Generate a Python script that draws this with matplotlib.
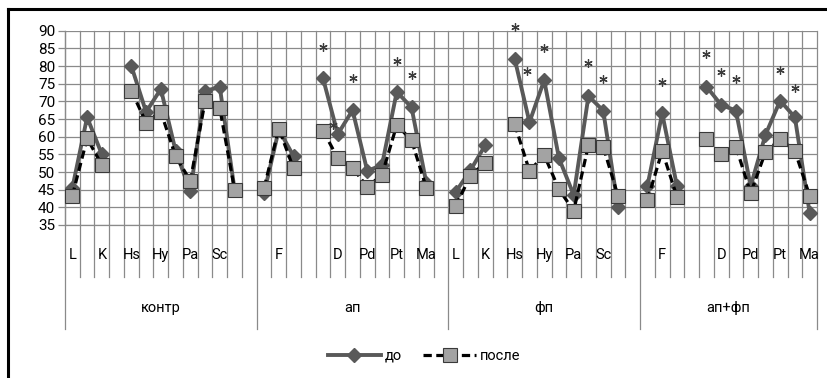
import numpy as np
import matplotlib
matplotlib.use("Agg")
import matplotlib.pyplot as plt
from matplotlib.lines import Line2D
from matplotlib.transforms import blended_transform_factory

plt.rcParams['font.family'] = ['Roboto', 'DejaVu Sans']

nan = np.nan

# Scale labels inside each group ("" = spacer slot)
scales = ["L", "F", "K", "", "Hs", "D", "Hy", "Pd", "Pa", "Pt", "Sc", "Ma", ""]
scales_last = scales[:-1]

groups = ["контр", "ап", "фп", "ап+фп"]

# T-scores before treatment
before_kontr = [45.5, 65.5, 55.0, nan, 80.0, 67.0, 73.5, 56.0, 44.5, 73.0, 74.0, 45.0, nan]
before_ap = [44.0, 62.0, 54.5, nan, 76.5, 60.7, 67.5, 50.3, 52.0, 72.7, 68.3, 47.0, nan]
before_fp = [44.4, 50.5, 57.6, nan, 82.0, 64.1, 76.0, 53.9, 43.5, 71.5, 67.4, 40.2, nan]
before_apfp = [46.1, 66.6, 46.1, nan, 74.2, 69.0, 67.4, 46.0, 60.5, 70.2, 65.5, 38.5]

# T-scores after treatment
after_kontr = [43.3, 59.5, 52.0, nan, 73.0, 64.0, 67.0, 54.5, 47.5, 70.0, 68.0, 45.0, nan]
after_ap = [45.5, 62.3, 51.0, nan, 61.7, 53.9, 51.2, 45.8, 49.2, 63.3, 59.0, 45.6, nan]
after_fp = [40.4, 49.0, 52.6, nan, 63.5, 50.3, 54.8, 45.1, 39.0, 57.6, 57.2, 43.3, nan]
after_apfp = [42.0, 56.0, 43.0, nan, 59.3, 55.0, 57.2, 44.0, 55.6, 59.3, 56.0, 43.3]

# Significance marks: (group index, scale name, y value, x shift in slots)
stars_group = [1, 1, 1, 1, 1, 2, 2, 2, 2, 2, 3, 3, 3, 3, 3, 3]
stars_scale = ["Hs", "D", "Hy", "Pt", "Sc", "Hs", "D", "Hy", "Pt", "Sc",
               "F", "Hs", "D", "Hy", "Pt", "Sc"]
stars_value = [85.5, 63.3, 76.5, 81.5, 77.5, 91.0, 78.7, 85.0, 80.8, 76.2,
               75.4, 83.4, 78.4, 76.2, 79.0, 73.7]
stars_shift = [0, -0.3, 0, 0, 0, 0, -0.15, 0, 0, 0, 0, 0, 0, 0, 0, 0]

yticks = list(range(35, 91, 5))

group_scales = [scales, scales, scales, scales_last]
before = before_kontr + before_ap + before_fp + before_apfp
after = after_kontr + after_ap + after_fp + after_apfp
labels = sum(group_scales, [])
n = len(labels)
x = np.arange(n) + 0.5
starts = np.cumsum([0] + [len(s) for s in group_scales])

W, H = 827, 378
fig = plt.figure(figsize=(W / 100, H / 100), dpi=100)
left, right, top, bottom = 65, 817, 30.7, 225
ax = fig.add_axes([left / W, 1 - bottom / H, (right - left) / W, (bottom - top) / H])
ax.set_xlim(0, n)
ax.set_ylim(35, 90)

grid_c = '#8a8a8a'
ax.set_yticks(yticks)
ax.yaxis.grid(True, color=grid_c, lw=0.9)
ax.set_axisbelow(True)
ax.tick_params(axis='y', length=5, width=0.9, color=grid_c, pad=2, labelsize=11,
               labelcolor='black')
ax.set_xticks([])
for s in ['top', 'right']:
    ax.spines[s].set_visible(False)
for s in ['left', 'bottom']:
    ax.spines[s].set_color(grid_c)
    ax.spines[s].set_linewidth(0.9)

tr = blended_transform_factory(ax.transData, ax.transAxes)
ph = bottom - top
cat_low = -(277 - bottom) / ph
grp_low = -(329 - bottom) / ph

# Category boundaries: run through the plot and the label band
for b in range(n + 1):
    lo = grp_low if b in starts else cat_low
    ax.add_line(Line2D([b, b], [lo, 1], transform=tr, color=grid_c, lw=0.9,
                       clip_on=False, zorder=0.5))

for i, lab in enumerate(labels):
    if i % 2 == 0 and lab:
        ax.text(i + 0.5, -(255 - bottom) / ph, lab, transform=tr, ha='center',
                va='center', fontsize=10.5)

for g, name in enumerate(groups):
    ax.text((starts[g] + starts[g + 1]) / 2, -(308 - bottom) / ph, name, transform=tr,
            ha='center', va='center', fontsize=10.5)

dark = '#595959'
ax.plot(x, before, color=dark, lw=2.8, marker='D', ms=7.5, mfc=dark, mec=dark,
        zorder=3, clip_on=False, label='до')
ax.plot(x, after, color='black', lw=2.3, dashes=(2.6, 1.4), marker='s', ms=9.5,
        mfc='#a3a3a3', mec='#3a3a3a', mew=0.8, zorder=4, clip_on=False,
        label='после')

for g, sc, v, dx in zip(stars_group, stars_scale, stars_value, stars_shift):
    xi = starts[g] + group_scales[g].index(sc) + 0.5 + dx
    ax.plot([xi], [v], marker=(6, 2, 0), ms=6, color='#3c3c3c', mew=0.9,
            linestyle='none', clip_on=False, zorder=5)

h1 = Line2D([], [], color=dark, lw=2.8, marker='D', ms=7, mfc=dark, mec=dark)
h2 = Line2D([], [], color='black', lw=2.3, dashes=(2.6, 1.4), marker='s', ms=9.5,
            mfc='#a3a3a3', mec='#3a3a3a', mew=0.8)
fig.legend([h1, h2], ['до', 'после'], loc='center', bbox_to_anchor=(424 / W, 1 - 356 / H),
           ncol=2, frameon=False, fontsize=10.5, handlelength=3.6, handletextpad=0.25,
           columnspacing=1.5, numpoints=1)

# Chart frame edges
fig.add_artist(Line2D([8 / W, 8 / W], [0, 1 - 9 / H], transform=fig.transFigure,
                      color='black', lw=2.2))
fig.add_artist(Line2D([8 / W, 1], [1 - 9 / H, 1 - 9 / H], transform=fig.transFigure,
                      color='black', lw=2.2))

fig.savefig('out.png', dpi=100)
